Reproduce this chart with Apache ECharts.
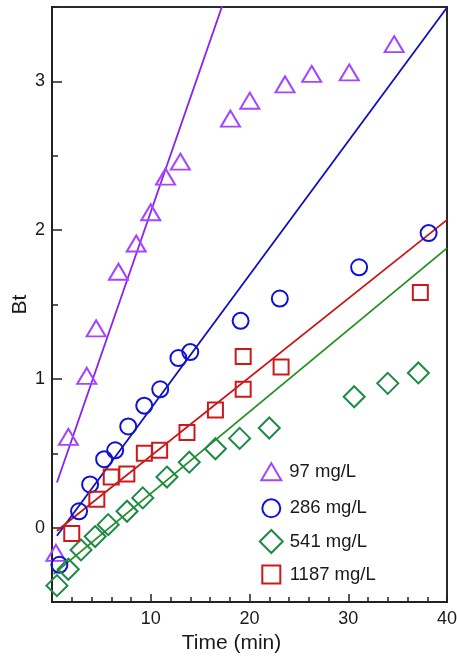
<!DOCTYPE html>
<html><head><meta charset="utf-8">
<script src="https://cdn.jsdelivr.net/npm/echarts@6/dist/echarts.min.js"></script>
<style>html,body{margin:0;padding:0;background:#fff}#c{width:457px;height:664px}</style>
</head><body><div id="c"></div>
<script>
// ---- data ----
const seriesNames = ['97 mg/L', '286 mg/L', '541 mg/L', '1187 mg/L'];
const t97  = [0.4, 1.66, 3.52, 4.47, 6.73, 8.53, 10.0, 11.5, 13.0, 18.07, 20.03, 23.6, 26.3, 30.1, 34.65];
const b97  = [-0.17, 0.61, 1.02, 1.34, 1.72, 1.91, 2.12, 2.36, 2.46, 2.75, 2.87, 2.98, 3.05, 3.06, 3.25];
const t286 = [0.75, 2.74, 3.86, 5.28, 6.4, 7.72, 9.34, 10.96, 12.8, 14.0, 19.1, 23.07, 31.1, 38.14];
const b286 = [-0.25, 0.11, 0.29, 0.46, 0.52, 0.68, 0.82, 0.93, 1.14, 1.18, 1.39, 1.54, 1.75, 1.98];
const t541 = [0.5, 1.65, 2.94, 4.37, 5.69, 7.6, 9.19, 11.64, 13.9, 16.55, 19.0, 22.0, 30.6, 34.0, 37.1];
const b541 = [-0.39, -0.28, -0.15, -0.06, 0.02, 0.11, 0.20, 0.34, 0.44, 0.53, 0.60, 0.67, 0.88, 0.97, 1.04];
const t1187 = [2.0, 4.54, 6.0, 7.58, 9.35, 10.9, 13.67, 16.55, 19.36, 19.36, 23.2, 37.3];
const b1187 = [-0.04, 0.19, 0.34, 0.36, 0.50, 0.52, 0.64, 0.79, 0.93, 1.15, 1.08, 1.58];
// linear fits (slope, intercept, x-range)
const fitSlope = [0.1914, 0.0899, 0.0550, 0.0529];
const fitIntercept = [0.208, -0.099, -0.321, -0.047];
const fitStart = [0.5, 0.5, 0.15, 0.5];
const fitEnd = [18, 40, 40, 40];
const xTicks = [10, 20, 30, 40];
const yTicks = [0, 1, 2, 3];

// ---- styling ----
const markerColors = ['#A546FF', '#1010D8', '#1E8A46', '#CC1A1A'];
const lineColors = ['#8A22F0', '#0E0EC0', '#22901E', '#CC1414'];
const symbols = ['triangle', 'circle', 'diamond', 'rect'];
const symSizes = [[19, 16], 16, 21, 15];
const txt = '#1a1a1a';
const font = 'Liberation Sans, Arial, sans-serif';

const xs = [t97, t286, t541, t1187], ys = [b97, b286, b541, b1187];
const series = [];
for (let i = 0; i < 4; i++) {
  series.push({
    name: 'fit' + i, type: 'line', showSymbol: false, silent: true,
    lineStyle: { color: lineColors[i], width: 1.8 }, z: 2,
    data: [[fitStart[i], fitIntercept[i] + fitSlope[i] * fitStart[i]],
           [fitEnd[i], fitIntercept[i] + fitSlope[i] * fitEnd[i]]]
  });
}
for (let i = 0; i < 4; i++) {
  series.push({
    name: seriesNames[i], type: 'scatter', symbol: symbols[i], symbolSize: symSizes[i], z: 3,
    itemStyle: { color: 'rgba(255,255,255,0)', borderColor: markerColors[i], borderWidth: 2, opacity: 1 },
    data: xs[i].map((x, k) => [x, ys[i][k]])
  });
}

const legendGeo = [
  { left: 260.3, top: 457.2, iw: 20, ih: 17, pt: 13, pl: 3 },
  { left: 261.3, top: 495.8, iw: 18, ih: 18, pt: 9, pl: 4.4 },
  { left: 258.8, top: 529, iw: 23, ih: 23, pt: 6, pl: 2 },
  { left: 261.3, top: 562.5, iw: 18, ih: 18, pt: 8, pl: 4.4 }
];
const legends = seriesNames.map((n, i) => ({
  data: [n], orient: 'vertical', padding: 0, selectedMode: false,
  left: legendGeo[i].left, top: legendGeo[i].top,
  itemWidth: legendGeo[i].iw, itemHeight: legendGeo[i].ih, symbolKeepAspect: false,
  textStyle: { fontSize: 18.5, color: txt, fontFamily: font, lineHeight: 16,
               padding: [legendGeo[i].pt, 0, 0, legendGeo[i].pl] }
}));

const chart = echarts.init(document.getElementById('c'), null, { renderer: 'canvas' });
chart.setOption({
  animation: false,
  backgroundColor: '#fff',
  textStyle: { fontFamily: font },
  grid: { left: 52, right: 10, top: 7, bottom: 62, show: true, borderColor: '#2a2a2a', borderWidth: 2,
          containLabel: false, outerBoundsMode: 'none' },
  legend: legends,
  xAxis: {
    type: 'value', min: 0, max: 40, interval: 10,
    name: 'Time (min)', nameLocation: 'middle', nameGap: 29,
    nameTextStyle: { fontSize: 21, color: txt, fontFamily: font, padding: [0, 36, 0, 0] },
    axisLine: { show: true, onZero: false, lineStyle: { color: '#222', width: 2 } },
    axisTick: { show: true, inside: true, length: 8, lineStyle: { color: '#222', width: 1.5 } },
    minorTick: { show: true, splitNumber: 5, length: 5, lineStyle: { color: '#222', width: 1.5 } },
    axisLabel: { fontSize: 18, color: txt, margin: 8, formatter: v => xTicks.includes(v) ? String(v) : '' },
    splitLine: { show: false }
  },
  yAxis: [{
    type: 'value', min: -0.5, max: 3.5, interval: 0.5,
    name: 'Bt', nameLocation: 'middle', nameGap: 21, nameMoveOverlap: false,
    nameTextStyle: { fontSize: 21, color: txt, fontFamily: font },
    axisLine: { show: true, onZero: false, lineStyle: { color: '#222', width: 2 } },
    axisTick: { show: true, inside: true, length: 6, lineStyle: { color: '#222', width: 1.5 } },
    axisLabel: { fontSize: 18, color: txt, margin: 7, formatter: v => yTicks.includes(v) ? String(v) : '' },
    splitLine: { show: false }
  }, {
    type: 'value', min: -0.5, max: 3.5, position: 'left', offset: 0,
    axisLine: { show: false, onZero: false },
    axisTick: { show: true, inside: true, length: 10, customValues: yTicks, lineStyle: { color: '#222', width: 1.5 } },
    axisLabel: { show: false },
    splitLine: { show: false }
  }],
  series: series
});
</script>
</body></html>
